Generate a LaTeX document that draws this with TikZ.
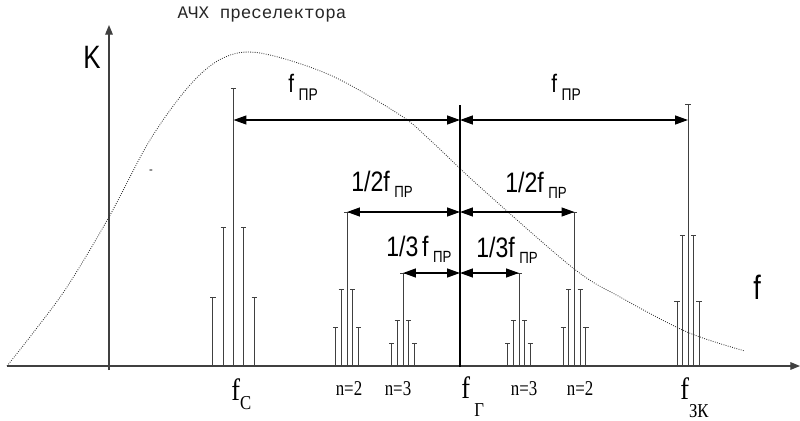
\documentclass[tikz,border=0pt]{standalone}
\usepackage{fontspec}
\usepackage{graphicx}
\setmainfont{Liberation Sans}
\newfontfamily\serifr{Liberation Serif}
\newfontfamily\monor{Liberation Mono}
\usetikzlibrary{arrows.meta}

\newcommand{\nar}[2][0.82]{\scalebox{#1}[1]{#2}}
\newcommand{\lowtxt}[3]{\raisebox{-#1}{\fontsize{#2}{#2}\selectfont #3}}

\begin{document}
\begin{tikzpicture}[x=0.025cm, y=-0.025cm,
    spec/.style={line width=0.7pt, black!75, -{Bar[width=1.3mm, line width=0.7pt]}},
    dim/.style={line width=1.1pt, {Triangle[length=3.2mm, width=2.2mm]}-{Triangle[length=3.2mm, width=2.2mm]}},
    axis/.style={line width=0.8pt, black!75, -{Triangle[length=2.4mm, width=1.9mm]}},
    lab/.style={inner sep=0pt, anchor=base west},
    tlab/.style={inner sep=0pt, anchor=base, font=\serifr\fontsize{15}{15}\selectfont}]
  \useasboundingbox (0,0) rectangle (800,420);

  % axes
  \coordinate (o) at (7,366);
  \coordinate (xend) at (800,366);
  \coordinate (ybot) at (109,370);
  \coordinate (yend) at (109,25);
  \draw[axis] (o) -- (xend);
  \draw[axis] (ybot) -- (yend);
  \node[font=\fontsize{23}{23}\selectfont] (K) at (92,57) {\nar[0.8]{K}};
  \node[font=\fontsize{24}{24}\selectfont] (f) at (757,287) {\nar[0.8]{f}};

  % preselector response
  \draw[line width=0.6pt, black!80, dash pattern=on 0.6pt off 1pt] plot[smooth, tension=0.55] coordinates
    {(7,366) (33,333) (67,287) (109,217) (150,140) (190,85) (223,58) (260,53)
     (330,75) (400,115) (430,140) (480,187) (573,268) (620,297) (687,332) (745,351)};
  \node[font=\monor\fontsize{12.5}{12.5}\selectfont, black!85] (title) at (262,15) {АЧХ преселектора};
  \node[font=\fontsize{8}{8}\selectfont, inner sep=0pt] (dash) at (151,172) {-};

  % spectral groups
  \foreach \c/\d/\ha/\hb/\hc in {233.5/10.3/297/227/88, 347/5.7/327/289/212,
      403/5.7/343/320/273, 519/5.6/343/320/273, 574.5/5.7/327/289/212, 688/5.5/301/235/104} {
    \draw[spec] ({\c-2*\d},366) -- ({\c-2*\d},\ha);
    \draw[spec] ({\c+2*\d},366) -- ({\c+2*\d},\ha);
    \draw[spec] ({\c-\d},366) -- ({\c-\d},\hb);
    \draw[spec] ({\c+\d},366) -- ({\c+\d},\hb);
    \draw[spec] (\c,366) -- (\c,\hc);
  }

  % heterodyne line
  \coordinate (gbot) at (460,367);
  \coordinate (gtop) at (460,105);
  \draw[line width=2pt] (gbot) -- (gtop);

  % distance arrows
  \coordinate (a1) at (233.5,120);
  \coordinate (g1) at (460,120);
  \coordinate (b1) at (688,120);
  \coordinate (a2) at (347,212);
  \coordinate (g2) at (460,212);
  \coordinate (b2) at (574.5,212);
  \coordinate (a3) at (403,273);
  \coordinate (g3) at (460,273);
  \coordinate (b3) at (519,273);
  \draw[dim] (a1) -- (g1);
  \draw[dim] (g1) -- (b1);
  \draw[dim] (a2) -- (g2);
  \draw[dim] (g2) -- (b2);
  \draw[dim] (a3) -- (g3);
  \draw[dim] (g3) -- (b3);

  \node[lab, font=\fontsize{18}{18}\selectfont] (fpr1) at (288,93) {\nar{f\hspace{4pt}\lowtxt{5pt}{12}{ПР}}};
  \node[lab, font=\fontsize{18}{18}\selectfont] (fpr2) at (551,93) {\nar{f\hspace{4pt}\lowtxt{5pt}{12}{ПР}}};
  \node[lab, font=\fontsize{20}{20}\selectfont] (half1) at (351,191) {\nar{1/2f\hspace{4pt}\lowtxt{4.5pt}{11.5}{ПР}}};
  \node[lab, font=\fontsize{20}{20}\selectfont] (half2) at (505,192) {\nar{1/2f\hspace{4pt}\lowtxt{4.5pt}{11.5}{ПР}}};
  \node[lab, font=\fontsize{20}{20}\selectfont] (third1) at (386,256) {\nar{1/3\,f\hspace{4pt}\lowtxt{4.5pt}{11.5}{ПР}}};
  \node[lab, font=\fontsize{20}{20}\selectfont] (third2) at (476,257) {\nar{1/3f\hspace{4pt}\lowtxt{4.5pt}{11.5}{ПР}}};

  % frequency labels
  \node[tlab] (n2l) at (349,395) {\nar[0.8]{n=2}};
  \node[tlab] (n3l) at (398,395) {\nar[0.8]{n=3}};
  \node[tlab] (n3r) at (524,395) {\nar[0.8]{n=3}};
  \node[tlab] (n2r) at (580,395) {\nar[0.8]{n=2}};
  \node[lab, font=\serifr\fontsize{22}{22}\selectfont] (fc) at (231,400) {\nar[0.85]{f\lowtxt{7pt}{14}{C}}};
  \node[lab, font=\serifr\fontsize{22}{22}\selectfont] (fg) at (461,398) {\nar[0.85]{f\,\lowtxt{13.5pt}{14}{Г}}};
  \node[lab, font=\serifr\fontsize{22}{22}\selectfont] (fz) at (680,399) {\nar[0.85]{f\lowtxt{13pt}{14}{ЗК}}};
\end{tikzpicture}
\end{document}
